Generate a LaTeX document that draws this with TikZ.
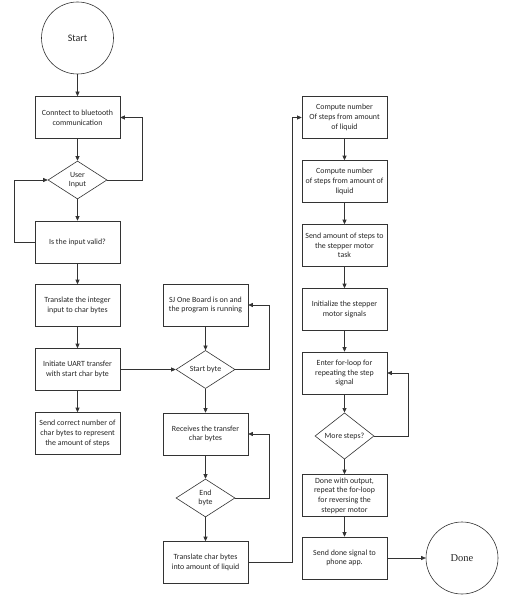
\documentclass[tikz,border=0pt]{standalone}
\usepackage{fontspec}
\setmainfont{Carlito}
\newfontfamily\donefont{Liberation Serif}
\usetikzlibrary{shapes.geometric,arrows.meta}
\begin{document}
\begin{tikzpicture}[x=1pt,y=-1pt,
  every node/.style={font=\fontsize{7.9}{9.7}\selectfont, text=black!85},
  box/.style={draw=black!80, line width=0.6pt, minimum width=85pt, minimum height=42pt, align=center, inner sep=1pt},
  dia/.style={draw=black!80, line width=0.6pt, diamond, minimum width=59pt, minimum height=38pt, align=center, inner sep=0pt},
  term/.style={draw=black!80, line width=0.6pt, circle, minimum size=72pt, inner sep=0pt},
  arr/.style={draw=black!80, line width=0.6pt, -{Triangle[length=4.5pt,width=4pt]}}
]
\useasboundingbox (0,0) rectangle (522,599);
\fill[white] (0,0) rectangle (522,599);
% left column
\node[term, font=\fontsize{10}{12}\selectfont] (start) at (77.5,38) {Start};
\node[box] (b1) at (77.5,117.5) {Conntect to bluetooth\\communication};
\node[dia] (d1) at (77.5,180) {User\\Input};
\node[box] (b2) at (77.5,242) {Is the input valid?};
\node[box] (b3) at (77.5,305.5) {Translate the integer\\input to char bytes};
\node[box] (b4) at (77.5,369.5) {Initiate UART transfer\\with start char byte};
\node[box] (b5) at (77.5,433.5) {Send correct number of\\char bytes to represent\\the amount of steps};
% middle column
\node[box] (m1) at (205.5,305) {SJ One Board is on and\\the program is running};
\node[dia] (m2) at (205.5,369.5) {Start byte};
\node[box] (m3) at (205.5,434) {Receives the transfer\\char bytes};
\node[dia] (m4) at (205.5,498) {End\\byte};
\node[box] (m5) at (205.5,562.5) {Translate char bytes\\into amount of liquid};
% right column
\node[box] (r1) at (344.5,117.5) {Compute number\\Of steps from amount\\of liquid};
\node[box] (r2) at (344.5,181.5) {Compute number\\of steps from amount of\\liquid};
\node[box] (r3) at (344.5,245.5) {Send amount of steps to\\the stepper motor\\task};
\node[box] (r4) at (344.5,309.5) {Initialize the stepper\\motor signals};
\node[box] (r5) at (344.5,373) {Enter for-loop for\\repeating the step\\signal};
\node[dia] (r6) at (344.5,436) {More steps?};
\node[box] (r7) at (344.5,495.5) {Done with output,\\repeat the for-loop\\for reversing the\\stepper motor};
\node[box] (r8) at (344.5,558) {Send done signal to\\phone app.};
\node[term, font=\donefont\fontsize{10.5}{12}\selectfont] (done) at (462,558) {Done};
% connectors left
\draw[arr] (start) -- (b1);
\draw[arr] (b1) -- (d1);
\draw[arr] (d1) -- (b2);
\draw[arr] (b2) -- (b3);
\draw[arr] (b3) -- (b4);
\draw[arr] (b4) -- (b5);
\draw[arr] (d1.east) -| ([xshift=22pt]b1.east) -- (b1.east);
\draw[arr] (b2.west) -- ++(-20,0) |- (d1.west);
\draw[arr] (b4.east) -- (m2.west);
% middle
\draw[arr] (m1) -- (m2);
\draw[arr] (m2) -- (m3);
\draw[arr] (m3) -- (m4);
\draw[arr] (m4) -- (m5);
\draw[arr] (m2.east) -| ([xshift=21pt]m1.east) -- (m1.east);
\draw[arr] (m4.east) -| ([xshift=21pt]m3.east) -- (m3.east);
\draw[arr] (m5.east) -- ++(44,0) |- (r1.west);
% right
\draw[arr] (r1) -- (r2);
\draw[arr] (r2) -- (r3);
\draw[arr] (r3) -- (r4);
\draw[arr] (r4) -- (r5);
\draw[arr] (r5) -- (r6);
\draw[arr] (r6) -- (r7);
\draw[arr] (r7) -- (r8);
\draw[arr] (r6.east) -| ([xshift=21pt]r5.east) -- (r5.east);
\draw[arr] (r8) -- (done);
\end{tikzpicture}
\end{document}
